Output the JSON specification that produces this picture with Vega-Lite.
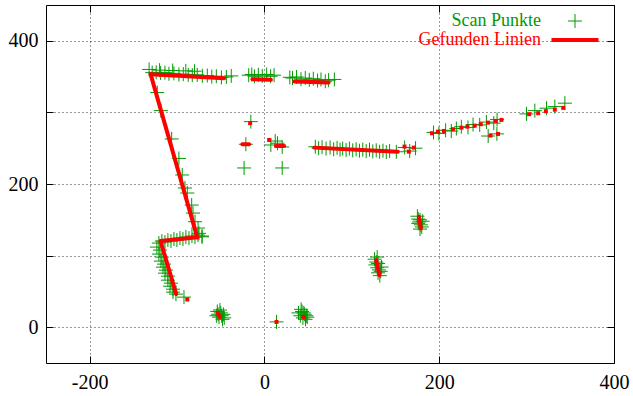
{
  "$schema": "https://vega.github.io/schema/vega-lite/v6.json",
  "width": 568,
  "height": 358,
  "autosize": "none",
  "padding": {"left": 46, "top": 5, "right": 19, "bottom": 33},
  "background": "#ffffff",
  "config": {
    "view": {"stroke": "#000000", "strokeWidth": 1}
  },
  "datasets": {
    "scan": [
      {"x": -132, "y": 360}, {"x": -128.5, "y": 355.5}, {"x": -123.9, "y": 356}, {"x": -120, "y": 359}, {"x": -118.8, "y": 355}, {"x": -113.9, "y": 355.5}, {"x": -109.3, "y": 354}, {"x": -105, "y": 358.5}, {"x": -103.6, "y": 354.5}, {"x": -97.9, "y": 353}, {"x": -92.9, "y": 353.5}, {"x": -90, "y": 358}, {"x": -87.2, "y": 352.5}, {"x": -82.6, "y": 352}, {"x": -80, "y": 357.5}, {"x": -76.9, "y": 352.5}, {"x": -71.1, "y": 351}, {"x": -65.4, "y": 351.5}, {"x": -60.3, "y": 350}, {"x": -55.1, "y": 350.5}, {"x": -49.3, "y": 349}, {"x": -43.6, "y": 349.5}, {"x": -38, "y": 351},
      {"x": -122.7, "y": 327.7}, {"x": -118.5, "y": 302.5}, {"x": -106.2, "y": 262.9}, {"x": -97.9, "y": 235.7}, {"x": -94.1, "y": 212.6}, {"x": -91, "y": 194.4}, {"x": -88.3, "y": 187.4}, {"x": -83.3, "y": 170.6}, {"x": -81.8, "y": 159.4}, {"x": -79.5, "y": 147.3}, {"x": -76, "y": 138.5}, {"x": -74.9, "y": 131.1}, {"x": -71.4, "y": 126.2},
      {"x": -120.8, "y": 117.5}, {"x": -117.4, "y": 120.3}, {"x": -113.9, "y": 118.9}, {"x": -110.5, "y": 121.7}, {"x": -107, "y": 120.3}, {"x": -103.6, "y": 123.1}, {"x": -100.2, "y": 121.7}, {"x": -96.7, "y": 124.5}, {"x": -93.3, "y": 123.1}, {"x": -89.9, "y": 125.9}, {"x": -86.4, "y": 124.5}, {"x": -83, "y": 127.3}, {"x": -79.5, "y": 125.9}, {"x": -76.1, "y": 128.7}, {"x": -71.5, "y": 127.3},
      {"x": -123.1, "y": 111.9}, {"x": -119.6, "y": 107.7}, {"x": -120.8, "y": 102.1}, {"x": -117.4, "y": 97.9}, {"x": -118.5, "y": 92.3}, {"x": -115, "y": 88.1}, {"x": -116.2, "y": 83.9}, {"x": -112.8, "y": 79.7}, {"x": -113.9, "y": 75.5}, {"x": -110.5, "y": 71.3}, {"x": -110.5, "y": 65.7}, {"x": -107, "y": 61.5}, {"x": -108.1, "y": 57.3}, {"x": -104.7, "y": 53.1}, {"x": -104.7, "y": 49}, {"x": -101.3, "y": 46.2}, {"x": -92.1, "y": 42},
      {"x": -18, "y": 352}, {"x": -14.5, "y": 353}, {"x": -11.5, "y": 350.5}, {"x": -7, "y": 352.5}, {"x": -2.5, "y": 351}, {"x": 2.5, "y": 353}, {"x": 7, "y": 350.5}, {"x": 11, "y": 352},
      {"x": 29, "y": 349}, {"x": 32.1, "y": 348}, {"x": 36.7, "y": 349.5}, {"x": 41.8, "y": 346.5}, {"x": 46.7, "y": 348}, {"x": 51.3, "y": 345.5}, {"x": 55.9, "y": 347}, {"x": 60.8, "y": 344.5}, {"x": 64.7, "y": 346}, {"x": 69.6, "y": 343.5}, {"x": 73.4, "y": 345}, {"x": 80, "y": 346},
      {"x": -15.6, "y": 287.1}, {"x": -21.3, "y": 255.5}, {"x": 20.3, "y": 222.4}, {"x": -23.3, "y": 222.4}, {"x": 14.9, "y": 256.9}, {"x": 7.3, "y": 254.5}, {"x": 20.3, "y": 251.7}, {"x": 12.3, "y": 260},
      {"x": 58.2, "y": 252}, {"x": 62, "y": 250}, {"x": 65.9, "y": 251.5}, {"x": 70.5, "y": 249.5}, {"x": 75.1, "y": 251}, {"x": 79.2, "y": 248.5}, {"x": 83.1, "y": 250.5}, {"x": 86.5, "y": 248}, {"x": 89.5, "y": 249.5}, {"x": 93.4, "y": 247.5}, {"x": 97.2, "y": 249.5}, {"x": 101, "y": 247}, {"x": 104.9, "y": 248.5}, {"x": 108.7, "y": 246.5}, {"x": 112.5, "y": 248}, {"x": 116.4, "y": 246}, {"x": 120.2, "y": 248}, {"x": 124, "y": 245.5}, {"x": 127.9, "y": 247}, {"x": 131.8, "y": 245}, {"x": 135.6, "y": 246.5}, {"x": 139.4, "y": 244.5}, {"x": 143.2, "y": 246}, {"x": 150.9, "y": 245}, {"x": 160.4, "y": 251}, {"x": 166.2, "y": 246}, {"x": 172.9, "y": 250},
      {"x": 193.5, "y": 272}, {"x": 199.6, "y": 270.5}, {"x": 207.3, "y": 275}, {"x": 213.8, "y": 274}, {"x": 219.6, "y": 277.5}, {"x": 225.3, "y": 280}, {"x": 232.9, "y": 279}, {"x": 238.7, "y": 283}, {"x": 246.3, "y": 282.5}, {"x": 254, "y": 286.5}, {"x": 262.4, "y": 285}, {"x": 266.2, "y": 290}, {"x": 256, "y": 267}, {"x": 266, "y": 270},
      {"x": 299.9, "y": 297.9}, {"x": 309.4, "y": 302.5}, {"x": 322.8, "y": 305.9}, {"x": 332.3, "y": 308.1}, {"x": 343.8, "y": 312.9},
      {"x": -54, "y": 22}, {"x": -53, "y": 18}, {"x": -52, "y": 14}, {"x": -50, "y": 20}, {"x": -49, "y": 16}, {"x": -48, "y": 11}, {"x": -47, "y": 18}, {"x": -51, "y": 24}, {"x": -46, "y": 13}, {"x": -55, "y": 16},
      {"x": 39, "y": 20}, {"x": 41, "y": 16}, {"x": 43, "y": 22}, {"x": 44, "y": 13}, {"x": 46, "y": 18}, {"x": 47, "y": 11}, {"x": 48, "y": 16}, {"x": 42, "y": 25}, {"x": 45, "y": 20}, {"x": 49, "y": 14},
      {"x": 13.8, "y": 7.4},
      {"x": 126, "y": 95}, {"x": 128, "y": 91}, {"x": 127, "y": 87}, {"x": 130, "y": 89}, {"x": 129, "y": 83}, {"x": 131, "y": 80}, {"x": 130, "y": 76}, {"x": 133, "y": 78}, {"x": 132, "y": 72}, {"x": 134, "y": 84}, {"x": 129, "y": 98},
      {"x": 175, "y": 155}, {"x": 176, "y": 151}, {"x": 177, "y": 147}, {"x": 178, "y": 150}, {"x": 179, "y": 143}, {"x": 180, "y": 140}, {"x": 178, "y": 137}, {"x": 176, "y": 145}, {"x": 181, "y": 148}
    ],
    "lines": [
      {"x": -130.3, "y": 353.4, "x2": -46.2, "y2": 347.8},
      {"x": -130.3, "y": 353.4, "x2": -76.9, "y2": 125.5},
      {"x": -76.9, "y": 125.5, "x2": -118.9, "y2": 120.3},
      {"x": -118.9, "y": 120.3, "x2": -101, "y2": 46.2},
      {"x": -13.8, "y": 346.4, "x2": 7.3, "y2": 345.5},
      {"x": 34.1, "y": 343, "x2": 73.4, "y2": 341.7},
      {"x": 57, "y": 250.8, "x2": 152.6, "y2": 245.2},
      {"x": 127.8, "y": 93.7, "x2": 131.6, "y2": 72.7},
      {"x": 176.7, "y": 154.3, "x2": 179, "y2": 138},
      {"x": -53.5, "y": 20, "x2": -51.2, "y2": 14.4},
      {"x": -25.3, "y": 255.5, "x2": -17.6, "y2": 255.5},
      {"x": 13, "y": 253, "x2": 22.6, "y2": 253}
    ],
    "dots": [
      {"x": -88.3, "y": 38.7}, {"x": 13.8, "y": 7.4}, {"x": 44.7, "y": 14.4}, {"x": -16.4, "y": 285}, {"x": 5.4, "y": 261.5},
      {"x": 160.3, "y": 252.2}, {"x": 165.2, "y": 245.2}, {"x": 170.9, "y": 250.8},
      {"x": 191.6, "y": 270.9}, {"x": 198.5, "y": 273.1}, {"x": 205.3, "y": 274.1}, {"x": 215.7, "y": 276.5}, {"x": 225.3, "y": 278.7}, {"x": 232.2, "y": 280.1}, {"x": 240.6, "y": 281.5}, {"x": 247.5, "y": 283.5}, {"x": 255.8, "y": 285.7}, {"x": 264.7, "y": 288.1}, {"x": 271.2, "y": 289.5},
      {"x": 258.6, "y": 267.6}, {"x": 267.3, "y": 269.9},
      {"x": 302.9, "y": 297.5}, {"x": 313.2, "y": 298.9}, {"x": 322, "y": 301.7}, {"x": 332.3, "y": 303.9}, {"x": 341.9, "y": 306.3}
    ]
  },
  "resolve": {"axis": {"x": "independent", "y": "independent"}},
  "layer": [
    {
      "data": {"name": "scan"},
      "mark": {"type": "point", "shape": "M-1,0L1,0M0,-1L0,1", "filled": false, "strokeWidth": 1, "size": 196, "opacity": 1},
      "encoding": {
        "x": {"field": "x", "type": "quantitative",
          "scale": {"domain": [-250, 400], "nice": false, "zero": false},
          "axis": {"orient": "bottom", "title": null, "values": [-200, 0, 200, 400], "labelExpr": "toString(datum.value)", "grid": true, "gridDash": [1, 3], "gridColor": "#000000", "gridOpacity": 0.8, "domain": false, "tickSize": -7, "tickColor": "#000000", "labelFont": "Liberation Serif", "labelFontSize": 20, "labelColor": "#000000", "labelPadding": 16, "labelFlush": false}},
        "y": {"field": "y", "type": "quantitative",
          "scale": {"domain": [-50, 450], "nice": false, "zero": false},
          "axis": {"orient": "left", "title": null, "values": [0, 100, 200, 300, 400], "labelExpr": "datum.value % 200 === 0 ? toString(datum.value) : ''", "grid": true, "gridDash": [1, 3], "gridColor": "#000000", "gridOpacity": 0.8, "domain": false, "tickSize": -7, "tickColor": "#000000", "labelFont": "Liberation Serif", "labelFontSize": 20, "labelColor": "#000000", "labelPadding": 15}},
        "color": {"datum": "Scan Punkte", "type": "nominal",
          "scale": {"domain": ["Scan Punkte", "Gefunden Linien"], "range": ["#009a00", "#ff0000"]},
          "legend": {
            "title": null, "orient": "top-right", "offset": 7, "padding": 0,
            "labelFont": "Liberation Serif", "labelFontSize": 18, "labelAlign": "right", "labelOffset": -43, "labelLimit": 300,
            "symbolSize": 196, "rowPadding": 1,
            "encoding": {
              "symbols": {
                "shape": {"value": {"expr": "datum.label === 'Gefunden Linien' ? 'M-3.36,0L3.36,0' : 'M-1,0L1,0M0,-1L0,1'"}},
                "stroke": {"value": {"expr": "datum.label === 'Gefunden Linien' ? '#ff0000' : '#009a00'"}},
                "strokeWidth": {"value": {"expr": "datum.label === 'Gefunden Linien' ? 4 : 1"}},
                "fill": {"value": "transparent"}
              },
              "labels": {
                "fill": {"value": {"expr": "datum.label === 'Gefunden Linien' ? '#ff0000' : '#009a00'"}}
              }
            }
          }}
      }
    },
    {
      "data": {"name": "dots"},
      "mark": {"type": "square", "size": 16, "opacity": 1, "filled": true},
      "encoding": {
        "x": {"field": "x", "type": "quantitative", "axis": null},
        "y": {"field": "y", "type": "quantitative", "axis": null},
        "color": {"datum": "Gefunden Linien", "type": "nominal", "legend": null}
      }
    },
    {
      "data": {"name": "lines"},
      "mark": {"type": "rule", "strokeWidth": 4, "strokeCap": "round"},
      "encoding": {
        "x": {"field": "x", "type": "quantitative",
          "axis": {"orient": "top", "title": null, "values": [-200, 0, 200, 400], "labels": false, "grid": false, "domain": false, "tickSize": -7, "tickColor": "#000000"}},
        "y": {"field": "y", "type": "quantitative",
          "axis": {"orient": "right", "title": null, "values": [0, 100, 200, 300, 400], "labels": false, "grid": false, "domain": false, "tickSize": -7, "tickColor": "#000000"}},
        "x2": {"field": "x2"},
        "y2": {"field": "y2"},
        "color": {"datum": "Gefunden Linien", "type": "nominal", "legend": null}
      }
    }
  ]
}
